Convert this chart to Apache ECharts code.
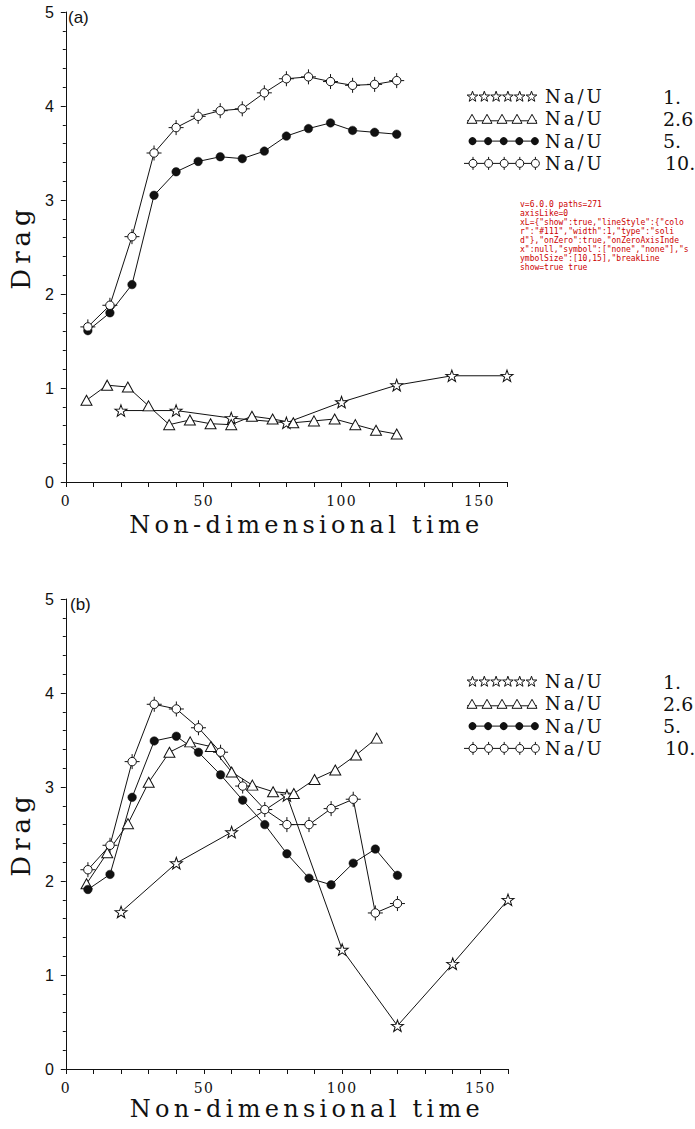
<!DOCTYPE html>
<html>
<head>
<meta charset="utf-8">
<title>Drag versus non-dimensional time</title>
<script src="https://cdn.jsdelivr.net/npm/echarts@6/dist/echarts.min.js"></script>
<style>
  html, body { margin: 0; padding: 0; background: #fff; }
  #chart { width: 695px; height: 1129px; }
  #chart text[style*="24px"] { letter-spacing: 4.3px; }
  #chart text[style*="26px"] { letter-spacing: 5px; }
  #chart text[style*="18px"] { letter-spacing: 3px; }
  #chart text[style*="14px"] { letter-spacing: 1.3px; }
  #diag { position: absolute; left: 520px; top: 200px; width: 170px; font: 8px monospace; white-space: pre-wrap; word-break: break-all; color: #c00; margin: 0; }
</style>
</head>
<body>
<div id="chart"></div>
<pre id="diag"></pre>
<script>
const panelLabels = ['(a)', '(b)'];
const seriesName = 'Na/U';
const ratioLabels = ['1.', '2.6', '5.', '10.'];
const xTitle = 'Non-dimensional time';
const yTitle = 'Drag';
const xLabelValues = [0, 50, 100, 150];
const tStar = [20, 40, 60, 80, 100, 120, 140, 160];
const tTri  = [7.5, 15, 22.5, 30, 37.5, 45, 52.5, 60, 67.5, 75, 82.5, 90, 97.5, 105, 112.5, 120];
const tDot  = [8, 16, 24, 32, 40, 48, 56, 64, 72, 80, 88, 96, 104, 112, 120];
const dragA1  = [0.76, 0.76, 0.68, 0.63, 0.85, 1.03, 1.13, 1.13];
const dragA26 = [0.87, 1.03, 1.01, 0.81, 0.61, 0.66, 0.62, 0.61, 0.70, 0.67, 0.63, 0.65, 0.67, 0.61, 0.55, 0.51];
const dragA5  = [1.61, 1.80, 2.10, 3.05, 3.30, 3.41, 3.46, 3.44, 3.52, 3.68, 3.76, 3.82, 3.74, 3.72, 3.70];
const dragA10 = [1.65, 1.88, 2.61, 3.50, 3.77, 3.89, 3.95, 3.97, 4.14, 4.29, 4.31, 4.26, 4.22, 4.23, 4.27];
const dragB1  = [1.67, 2.19, 2.52, 2.91, 1.27, 0.46, 1.12, 1.80];
const dragB26 = [1.97, 2.30, 2.61, 3.05, 3.37, 3.48, 3.43, 3.16, 3.02, 2.95, 2.93, 3.08, 3.18, 3.34, 3.52];
const dragB5  = [1.91, 2.07, 2.89, 3.49, 3.54, 3.37, 3.13, 2.86, 2.60, 2.29, 2.03, 1.96, 2.19, 2.34, 2.06];
const dragB10 = [2.12, 2.38, 3.27, 3.88, 3.83, 3.63, 3.37, 3.01, 2.76, 2.60, 2.60, 2.77, 2.87, 1.66, 1.76];
const INK = '#111';
const SERIF = 'DejaVu Serif';
const SANS = 'Liberation Sans';
const STAR_PTS = [[10,0],[12.35,6.76],[19.51,6.91],[13.8,11.24],[15.88,18.09],[10,14],[4.12,18.09],[6.2,11.24],[0.49,6.91],[7.65,6.76]];
const STAR_PATH = 'M' + STAR_PTS.map(p => p.join(',')).join('L') + 'Z';
const CROSS_PATH = 'M3.5,8A4.5,4.5,0,1,0,12.5,8A4.5,4.5,0,1,0,3.5,8ZM8,0L8,3.5M8,12.5L8,16M0,8L3.5,8M12.5,8L16,8';
const panels = [
  { grid: { left: 55, top: 12, width: 452, height: 470 }, nameGap: 31, legendTop: 96.5, runs: [dragA1, dragA26, dragA5, dragA10] },
  { grid: { left: 57, top: 599, width: 451, height: 470 }, nameGap: 28, legendTop: 681.5, runs: [dragB1, dragB26, dragB5, dragB10] }
];
const markerStyles = [
  { symbol: 'path://' + STAR_PATH, symbolSize: [12, 11.5], itemStyle: { color: '#fff', borderColor: INK, borderWidth: 1 } },
  { symbol: 'triangle', symbolSize: [11, 10], itemStyle: { color: '#fff', borderColor: INK, borderWidth: 1 } },
  { symbol: 'circle', symbolSize: 8.5, itemStyle: { color: INK, borderColor: INK, borderWidth: 0.5 } },
  { symbol: 'path://' + CROSS_PATH, symbolSize: 15, itemStyle: { color: '#fff', borderColor: INK, borderWidth: 1 } }
];
const runTimes = [tStar, tTri, tDot, tDot];
function pairs(ts, vs) { return vs.map((v, i) => [ts[i], v]); }
const gridList = [], xAxisList = [], yAxisList = [], seriesList = [], graphicList = [];
panels.forEach((p, pi) => {
  gridList.push(p.grid);
  xAxisList.push({
    type: 'value', gridIndex: pi, min: 0, max: 160, interval: 10,
    name: xTitle, nameLocation: 'middle', nameGap: p.nameGap,
    nameTextStyle: { fontFamily: SERIF, fontSize: 24, color: INK, padding: [0, 0, 0, 40] },
    axisLine: { show: true, lineStyle: { color: INK, width: 1 } },
    axisTick: { show: true, length: 5, lineStyle: { color: INK, width: 1 } },
    axisLabel: { margin: 12, fontFamily: SERIF, fontSize: 14, color: INK,
      formatter: v => (xLabelValues.indexOf(v) >= 0 ? String(v) : '') },
    splitLine: { show: false }
  });
  yAxisList.push({
    type: 'value', gridIndex: pi, min: 0, max: 5, interval: 1,
    name: yTitle, nameLocation: 'middle', nameGap: 23,
    nameTextStyle: { fontFamily: SERIF, fontSize: 26, color: INK },
    axisLine: { show: true, lineStyle: { color: INK, width: 1 } },
    axisTick: { show: true, length: 5, lineStyle: { color: INK, width: 1 } },
    minorTick: { show: true, splitNumber: 5, length: 3, lineStyle: { color: INK, width: 1 } },
    axisLabel: { margin: 12, fontFamily: SANS, fontSize: 16, color: INK },
    splitLine: { show: false }
  });
  p.runs.forEach((vals, ri) => {
    seriesList.push(Object.assign({
      type: 'line', name: seriesName + ' ' + ratioLabels[ri], xAxisIndex: pi, yAxisIndex: pi,
      data: pairs(runTimes[ri], vals), lineStyle: { color: INK, width: 1 }, animation: false
    }, markerStyles[ri]));
  });
  graphicList.push({ type: 'text', x: p.grid.left + 13, y: p.grid.top + 5,
    style: { text: panelLabels[pi], fontFamily: SANS, fontSize: 17, fill: INK, align: 'left', verticalAlign: 'middle' } });
  const x0 = 467, x1 = 537, gap = 22.3;
  for (let ri = 0; ri < 4; ri++) {
    const y = p.legendTop + ri * gap;
    if (ri === 0) {
      for (let k = 0; k < 6; k++) {
        const cx = 472.5 + k * 11.8;
        graphicList.push({ type: 'polygon', shape: { points: STAR_PTS.map(q => [cx + (q[0] - 10) * 0.56, y + (q[1] - 9.5) * 0.56]) },
          style: { fill: '#fff', stroke: INK, lineWidth: 1 } });
      }
    } else if (ri === 1) {
      graphicList.push({ type: 'line', shape: { x1: x0, y1: y + 2, x2: x1, y2: y + 2 }, style: { stroke: INK, lineWidth: 1 } });
      for (let k = 0; k < 5; k++) {
        const cx = 472 + k * 15;
        graphicList.push({ type: 'polygon', shape: { points: [[cx, y - 4.5], [cx + 5, y + 4.5], [cx - 5, y + 4.5]] }, style: { fill: '#fff', stroke: INK, lineWidth: 1 } });
      }
    } else if (ri === 2) {
      graphicList.push({ type: 'line', shape: { x1: x0 + 2, y1: y, x2: x1, y2: y }, style: { stroke: INK, lineWidth: 1 } });
      for (let k = 0; k < 5; k++) graphicList.push({ type: 'circle', shape: { cx: 472.5 + k * 15.6, cy: y, r: 4 }, style: { fill: INK } });
    } else {
      graphicList.push({ type: 'line', shape: { x1: x0 - 3, y1: y, x2: x1, y2: y }, style: { stroke: INK, lineWidth: 1 } });
      for (let k = 0; k < 5; k++) {
        const cx = 473 + k * 15.6;
        graphicList.push({ type: 'line', shape: { x1: cx, y1: y - 6.5, x2: cx, y2: y + 6.5 }, style: { stroke: INK, lineWidth: 1 } });
        graphicList.push({ type: 'circle', shape: { cx: cx, cy: y, r: 4 }, style: { fill: '#fff', stroke: INK, lineWidth: 1 } });
      }
    }
    graphicList.push({ type: 'text', x: 545, y: y, style: { text: seriesName, fontFamily: SERIF, fontSize: 18, fill: INK, align: 'left', verticalAlign: 'middle' } });
    graphicList.push({ type: 'text', x: ri === 3 ? 665 : 663, y: y, style: { text: ratioLabels[ri], fontFamily: SERIF, fontSize: 19, fill: INK, align: 'left', verticalAlign: 'middle' } });
  }
});
const chart = echarts.init(document.getElementById('chart'), null, { renderer: 'svg' });
chart.setOption({ animation: false, grid: gridList, xAxis: xAxisList, yAxis: yAxisList, series: seriesList, graphic: graphicList });

// diagnostics
const svg = document.querySelector('#chart svg');
const paths = Array.from(svg.querySelectorAll('path'));
const lines = [];
lines.push('v=' + echarts.version + ' paths=' + paths.length);
const ax = paths.filter(pa => /M5[57](\.5)? /.test(pa.getAttribute('d') || ''));
lines.push('axisLike=' + ax.length);
ax.slice(0, 4).forEach(pa => {
  const attrs = Array.from(pa.attributes).map(a => a.name + '=' + a.value.slice(0, 40)).join(' ');
  lines.push(attrs);
  let par = pa.parentNode, chain = [];
  while (par && par !== svg) { chain.push(par.tagName + (par.getAttribute('clip-path') ? '[clip]' : '') + (par.getAttribute('opacity') ? '[op' + par.getAttribute('opacity') + ']' : '')); par = par.parentNode; }
  lines.push('par:' + chain.join('<'));
  const r = pa.getBoundingClientRect();
  lines.push('box ' + [r.x, r.y, r.width, r.height].map(n => n.toFixed(1)).join(','));
});
const o = chart.getOption();
lines.push('xL=' + JSON.stringify(o.xAxis[0].axisLine).slice(0, 160));
lines.push('show=' + o.xAxis[0].show + ' ' + o.yAxis[0].show);
document.getElementById('diag').textContent = lines.join('\n');
</script>
</body>
</html>
